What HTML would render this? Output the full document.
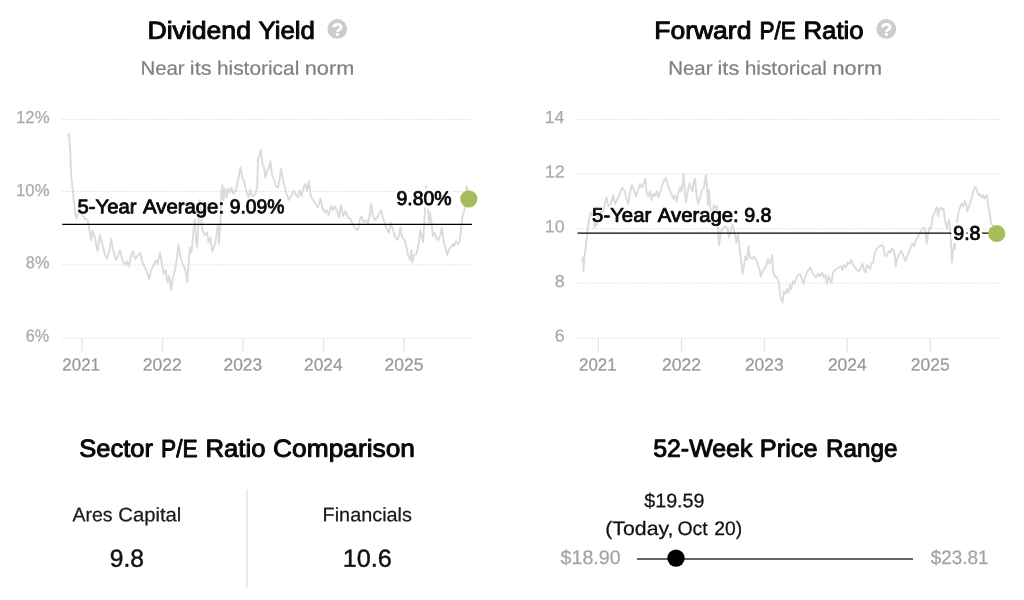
<!DOCTYPE html>
<html><head><meta charset="utf-8"><title>Valuation</title>
<style>html,body{margin:0;padding:0;background:#fff;}body{width:1024px;height:600px;overflow:hidden;font-family:"Liberation Sans",sans-serif;}svg{display:block;will-change:transform;}</style>
</head><body>
<svg width="1024" height="600" viewBox="0 0 1024 600" font-family="'Liberation Sans', sans-serif">
<rect width="1024" height="600" fill="#fff"/>
<!-- dotted grid lines -->
<g stroke="#d6d6d6" stroke-width="1.1" stroke-dasharray="1.1 1.8" fill="none">
<line x1="62.6" x2="472" y1="119.5" y2="119.5"/><line x1="62.6" x2="472" y1="191.5" y2="191.5"/><line x1="62.6" x2="472" y1="264.75" y2="264.75"/><line x1="62.6" x2="472" y1="338.2" y2="338.2"/>
<line x1="577.3" x2="999" y1="119.5" y2="119.5"/><line x1="577.3" x2="999" y1="174.0" y2="174.0"/><line x1="577.3" x2="999" y1="228.6" y2="228.6"/><line x1="577.3" x2="999" y1="283.3" y2="283.3"/><line x1="577.3" x2="999" y1="338.2" y2="338.2"/>
</g>
<!-- x-axis ticks -->
<g stroke="#e6e6e6" stroke-width="1.3" fill="none">
<line x1="82" x2="82" y1="338" y2="351.4"/><line x1="162.5" x2="162.5" y1="338" y2="351.4"/><line x1="243" x2="243" y1="338" y2="351.4"/><line x1="323.5" x2="323.5" y1="338" y2="351.4"/><line x1="404" x2="404" y1="338" y2="351.4"/>
<line x1="598.4" x2="598.4" y1="338" y2="351.4"/><line x1="681.4" x2="681.4" y1="338" y2="351.4"/><line x1="764.3" x2="764.3" y1="338" y2="351.4"/><line x1="847.3" x2="847.3" y1="338" y2="351.4"/><line x1="930.25" x2="930.25" y1="338" y2="351.4"/>
</g>
<!-- data series -->
<path d="M67.0,134.5 L69.0,134.5 L70.2,151.0 L71.2,175.0 L73.8,200.0 L75.5,215.0 L76.5,218.8 L78.0,212.5 L79.5,207.0 L81.0,213.0 L83.0,216.0 L85.0,218.8 L87.5,220.0 L89.5,230.0 L91.2,240.0 L92.5,231.0 L95.0,237.5 L97.5,251.0 L100.0,235.0 L102.5,245.0 L105.0,255.0 L107.0,258.8 L109.5,250.0 L111.2,238.8 L113.0,250.0 L116.2,260.0 L118.8,253.8 L120.0,250.0 L122.0,258.8 L124.5,265.0 L127.0,261.2 L128.8,266.2 L131.2,255.0 L133.2,251.2 L135.0,258.8 L137.5,256.2 L140.0,252.5 L142.5,262.5 L145.0,267.5 L147.5,273.8 L149.2,278.8 L151.2,270.0 L153.8,265.0 L156.2,260.0 L157.5,263.8 L160.0,252.5 L162.0,265.0 L163.8,273.8 L165.5,270.0 L167.5,282.5 L169.2,276.0 L171.2,290.0 L173.0,277.5 L175.0,270.0 L177.0,257.5 L178.5,245.0 L180.5,257.5 L183.0,265.0 L185.5,270.0 L187.2,282.5 L188.5,265.0 L189.8,247.5 L191.5,252.5 L193.0,235.0 L194.8,220.0 L196.0,240.0 L197.2,247.5 L198.5,222.5 L199.8,200.0 L201.0,215.0 L202.2,230.0 L204.8,235.0 L207.2,232.5 L208.5,242.5 L210.5,237.5 L212.2,251.2 L214.8,245.0 L216.5,235.0 L218.0,225.0 L219.0,243.8 L220.5,222.5 L221.5,190.0 L222.5,185.0 L223.5,200.0 L225.0,188.8 L226.5,197.5 L228.0,188.8 L229.8,192.5 L231.5,187.5 L233.5,193.8 L236.0,190.0 L238.0,180.0 L240.5,167.5 L242.2,177.5 L244.0,181.2 L246.0,190.0 L248.5,197.5 L250.5,190.0 L252.2,196.2 L254.8,195.0 L257.2,187.5 L258.0,160.0 L259.8,153.8 L261.0,150.0 L262.2,162.5 L264.0,167.5 L265.5,177.5 L267.2,171.2 L269.0,167.5 L270.5,161.2 L272.0,175.0 L274.0,180.0 L276.0,186.2 L278.0,187.5 L279.8,177.5 L281.0,168.8 L283.0,180.0 L284.8,187.5 L286.5,193.8 L288.5,200.0 L291.0,196.2 L293.5,191.2 L295.5,193.8 L298.0,197.5 L299.8,190.0 L301.5,196.2 L303.5,187.5 L305.5,183.8 L307.0,191.2 L309.0,181.2 L310.5,195.0 L313.0,200.0 L315.5,203.8 L318.0,207.5 L320.5,198.8 L322.2,207.5 L324.8,212.5 L326.5,210.0 L328.5,215.0 L331.0,206.2 L333.0,210.0 L334.8,206.2 L337.2,211.2 L339.0,217.5 L341.0,205.0 L343.0,216.2 L345.5,211.2 L348.0,217.5 L350.5,218.8 L353.0,225.0 L355.5,228.8 L358.0,230.0 L359.8,220.0 L361.5,216.2 L363.5,222.5 L366.0,220.0 L368.0,223.8 L369.8,215.0 L371.0,203.8 L372.5,213.8 L374.8,220.0 L377.2,217.5 L379.2,213.8 L381.0,210.0 L383.0,217.5 L384.8,223.8 L387.2,230.0 L389.0,232.5 L391.0,222.5 L393.0,230.0 L394.8,236.2 L397.2,240.0 L399.2,235.0 L400.5,227.5 L402.2,237.5 L404.8,240.0 L406.5,247.5 L408.5,256.2 L410.5,260.0 L411.5,250.0 L412.5,262.5 L414.0,255.0 L416.5,253.8 L418.5,245.0 L420.2,230.0 L421.8,237.5 L423.0,242.5 L424.2,225.0 L425.0,210.0 L426.0,186.0 L427.0,200.0 L428.0,208.8 L429.0,222.5 L430.0,212.5 L431.5,222.5 L433.0,236.2 L434.8,232.5 L436.5,238.8 L438.5,240.0 L440.5,235.0 L441.8,227.5 L443.5,240.0 L445.5,248.8 L447.2,255.0 L449.0,248.8 L451.0,247.5 L452.5,243.8 L454.0,246.2 L456.0,241.2 L458.0,243.8 L459.8,241.2 L461.0,230.0 L462.2,217.5 L464.0,211.2 L465.5,205.0 L466.5,186.2 L467.5,188.8 L468.8,198.8" fill="none" stroke="#dbdbdb" stroke-width="1.9" stroke-linejoin="round"/>
<path d="M582.0,261.2 L583.0,257.5 L583.5,271.2 L584.5,257.5 L586.0,245.0 L587.5,230.0 L589.0,220.0 L590.8,212.5 L592.0,216.0 L593.5,210.0 L594.5,227.5 L596.0,221.0 L597.0,225.0 L598.5,214.0 L600.0,218.0 L601.5,208.0 L603.0,212.0 L605.0,202.5 L606.5,197.5 L608.2,206.2 L610.8,203.8 L613.2,195.0 L615.0,203.8 L617.0,200.0 L619.5,195.0 L622.0,187.5 L624.5,191.2 L626.5,198.8 L628.2,203.8 L630.0,192.5 L632.0,185.0 L634.0,190.0 L636.0,196.2 L638.0,190.0 L640.0,183.8 L642.0,187.5 L644.0,182.5 L645.5,178.8 L646.5,192.5 L648.5,196.2 L650.0,191.2 L651.5,200.0 L653.2,193.8 L655.0,196.2 L657.0,191.2 L658.5,197.5 L660.8,190.0 L663.2,182.5 L665.8,177.5 L667.5,183.8 L669.5,190.0 L671.5,193.8 L673.5,198.8 L675.2,195.0 L676.5,201.2 L678.2,193.8 L680.0,187.5 L681.5,191.2 L683.0,181.2 L683.5,173.8 L684.5,187.5 L685.8,202.5 L687.5,192.5 L689.5,183.8 L691.0,187.5 L692.5,191.2 L694.0,180.0 L695.0,178.8 L696.5,195.0 L698.2,203.8 L700.0,197.5 L702.0,190.0 L704.0,187.5 L705.8,175.0 L707.0,185.0 L708.0,205.0 L709.0,190.0 L710.5,210.0 L712.5,213.8 L714.0,205.0 L715.8,208.8 L717.0,206.2 L717.8,225.0 L719.0,245.0 L720.8,232.5 L723.2,227.5 L725.8,226.2 L727.5,229.0 L729.0,237.5 L730.8,230.0 L732.5,225.0 L734.5,232.5 L736.5,242.5 L738.0,233.8 L739.5,246.2 L741.0,260.0 L742.5,273.8 L744.0,265.0 L745.5,256.2 L747.0,260.0 L748.5,246.2 L750.0,257.5 L752.0,258.8 L754.0,256.2 L756.0,260.0 L758.0,265.0 L759.5,270.0 L760.8,276.2 L762.5,271.2 L764.5,268.8 L766.5,265.0 L768.0,258.8 L769.5,263.8 L771.0,260.0 L772.2,255.0 L773.2,272.5 L775.0,276.2 L777.0,277.5 L778.8,282.5 L780.0,295.0 L781.5,300.0 L782.5,302.5 L783.8,291.2 L785.5,293.8 L787.0,288.8 L788.5,292.5 L790.0,285.0 L791.5,288.8 L792.8,281.2 L794.5,283.8 L796.5,277.5 L798.2,275.0 L800.0,273.8 L802.0,278.8 L803.5,283.8 L805.0,277.5 L807.0,272.5 L809.0,268.8 L810.5,267.5 L812.0,272.5 L814.0,275.0 L816.0,277.5 L818.0,273.8 L820.0,276.2 L822.0,272.5 L824.0,277.5 L825.5,275.0 L827.0,283.8 L828.5,276.2 L830.0,280.0 L831.5,282.5 L833.0,272.5 L835.0,270.0 L837.0,268.8 L839.0,267.5 L841.0,266.2 L842.5,270.0 L844.0,265.0 L845.8,267.5 L847.5,262.5 L849.5,263.8 L851.5,260.0 L853.2,265.0 L855.0,267.5 L857.0,270.0 L859.0,271.2 L861.0,267.5 L862.5,263.8 L864.0,270.0 L865.5,272.5 L867.0,265.0 L868.5,267.5 L870.0,268.8 L871.5,263.8 L873.2,262.5 L874.5,255.0 L876.0,250.0 L877.5,247.5 L879.5,246.2 L881.5,245.0 L883.5,246.2 L884.5,255.0 L886.0,256.2 L887.5,253.8 L889.0,251.2 L890.5,252.5 L892.0,248.8 L893.5,250.0 L894.8,255.0 L895.8,266.2 L897.0,258.8 L898.5,256.2 L900.0,252.5 L901.5,251.2 L903.0,255.0 L904.5,258.8 L905.5,261.2 L907.0,256.2 L909.0,252.5 L910.5,248.0 L912.5,243.8 L914.0,246.2 L915.5,241.2 L917.5,237.5 L919.5,233.8 L921.5,230.0 L923.5,227.5 L925.0,228.8 L926.0,237.5 L926.8,243.8 L928.0,233.8 L929.5,227.5 L931.0,228.8 L932.5,217.5 L934.0,213.8 L935.5,210.0 L937.0,207.5 L938.0,216.2 L939.5,208.8 L941.0,207.5 L942.5,210.0 L943.5,208.8 L944.5,216.2 L945.5,222.5 L947.0,228.8 L948.0,223.8 L949.0,220.0 L950.0,225.0 L951.0,245.0 L952.0,262.5 L953.0,250.0 L954.0,245.0 L955.0,248.8 L956.0,235.0 L957.2,220.0 L958.5,212.5 L960.0,207.5 L961.5,203.8 L963.0,206.2 L964.5,201.2 L966.0,203.8 L967.2,211.2 L968.5,207.5 L970.0,203.8 L971.5,198.8 L973.0,192.5 L974.5,187.5 L975.5,187.0 L977.0,191.2 L978.5,195.0 L980.0,193.8 L981.5,197.5 L983.0,195.0 L984.5,198.8 L986.0,196.2 L987.0,195.0 L988.0,203.8 L989.0,210.0 L990.0,215.0 L991.0,222.5 L992.5,225.0 L994.0,227.5 L996.5,233.2" fill="none" stroke="#dbdbdb" stroke-width="1.9" stroke-linejoin="round"/>
<!-- 5-year average lines -->
<line x1="62.3" x2="472" y1="224.45" y2="224.45" stroke="#000" stroke-width="1.3"/>
<line x1="577.5" x2="992" y1="233.05" y2="233.05" stroke="#000" stroke-width="1.3"/>
<!-- labels -->
<text id="t1_0" x="147.46" y="38.70" transform="rotate(0.03 147.46 38.70)" font-size="24.6" textLength="103.51" lengthAdjust="spacingAndGlyphs" fill="#080808" stroke="#080808" stroke-width="0.97" stroke-linejoin="round">Dividend</text><text id="t1_1" x="258.50" y="38.70" transform="rotate(0.03 258.50 38.70)" font-size="24.6" textLength="56.46" lengthAdjust="spacingAndGlyphs" fill="#080808" stroke="#080808" stroke-width="0.97" stroke-linejoin="round">Yield</text>
<text id="s1_0" x="140.41" y="74.70" transform="rotate(0.03 140.41 74.70)" font-size="19.5" textLength="44.25" lengthAdjust="spacingAndGlyphs" fill="#808080" stroke="#808080" stroke-width="0.2" stroke-linejoin="round">Near</text><text id="s1_1" x="189.86" y="74.70" transform="rotate(0.03 189.86 74.70)" font-size="19.5" textLength="21.63" lengthAdjust="spacingAndGlyphs" fill="#808080" stroke="#808080" stroke-width="0.2" stroke-linejoin="round">its</text><text id="s1_2" x="216.93" y="74.70" transform="rotate(0.03 216.93 74.70)" font-size="19.5" textLength="82.36" lengthAdjust="spacingAndGlyphs" fill="#808080" stroke="#808080" stroke-width="0.2" stroke-linejoin="round">historical</text><text id="s1_3" x="304.80" y="74.70" transform="rotate(0.03 304.80 74.70)" font-size="19.5" textLength="49.48" lengthAdjust="spacingAndGlyphs" fill="#808080" stroke="#808080" stroke-width="0.2" stroke-linejoin="round">norm</text>
<text id="t2_0" x="654.26" y="38.70" transform="rotate(0.03 654.26 38.70)" font-size="24.6" textLength="97.12" lengthAdjust="spacingAndGlyphs" fill="#080808" stroke="#080808" stroke-width="0.97" stroke-linejoin="round">Forward</text><text id="t2_1" x="759.51" y="38.70" transform="rotate(0.03 759.51 38.70)" font-size="24.6" textLength="36.23" lengthAdjust="spacingAndGlyphs" fill="#080808" stroke="#080808" stroke-width="0.97" stroke-linejoin="round">P/E</text><text id="t2_2" x="803.44" y="38.70" transform="rotate(0.03 803.44 38.70)" font-size="24.6" textLength="60.18" lengthAdjust="spacingAndGlyphs" fill="#080808" stroke="#080808" stroke-width="0.97" stroke-linejoin="round">Ratio</text>
<text id="s2_0" x="668.20" y="74.70" transform="rotate(0.03 668.20 74.70)" font-size="19.5" textLength="44.35" lengthAdjust="spacingAndGlyphs" fill="#808080" stroke="#808080" stroke-width="0.2" stroke-linejoin="round">Near</text><text id="s2_1" x="717.55" y="74.70" transform="rotate(0.03 717.55 74.70)" font-size="19.5" textLength="21.66" lengthAdjust="spacingAndGlyphs" fill="#808080" stroke="#808080" stroke-width="0.2" stroke-linejoin="round">its</text><text id="s2_2" x="744.68" y="74.70" transform="rotate(0.03 744.68 74.70)" font-size="19.5" textLength="82.33" lengthAdjust="spacingAndGlyphs" fill="#808080" stroke="#808080" stroke-width="0.2" stroke-linejoin="round">historical</text><text id="s2_3" x="832.52" y="74.70" transform="rotate(0.03 832.52 74.70)" font-size="19.5" textLength="49.51" lengthAdjust="spacingAndGlyphs" fill="#808080" stroke="#808080" stroke-width="0.2" stroke-linejoin="round">norm</text>
<text id="y1a_0" x="16.04" y="123.00" transform="rotate(0.03 16.04 123.00)" font-size="17.3" textLength="33.49" lengthAdjust="spacingAndGlyphs" fill="#aaa" stroke="#aaa" stroke-width="0.25" stroke-linejoin="round">12%</text>
<text id="y1b_0" x="16.04" y="196.00" transform="rotate(0.03 16.04 196.00)" font-size="17.3" textLength="33.49" lengthAdjust="spacingAndGlyphs" fill="#aaa" stroke="#aaa" stroke-width="0.25" stroke-linejoin="round">10%</text>
<text id="y1c_0" x="25.82" y="268.30" transform="rotate(0.03 25.82 268.30)" font-size="17.3" textLength="23.59" lengthAdjust="spacingAndGlyphs" fill="#aaa" stroke="#aaa" stroke-width="0.25" stroke-linejoin="round">8%</text>
<text id="y1d_0" x="25.82" y="341.50" transform="rotate(0.03 25.82 341.50)" font-size="17.3" textLength="23.46" lengthAdjust="spacingAndGlyphs" fill="#aaa" stroke="#aaa" stroke-width="0.25" stroke-linejoin="round">6%</text>
<text id="x1a_0" x="62.37" y="370.50" transform="rotate(0.03 62.37 370.50)" font-size="17.4" textLength="37.57" lengthAdjust="spacingAndGlyphs" fill="#999" stroke="#999" stroke-width="0.25" stroke-linejoin="round">2021</text>
<text id="x1b_0" x="142.83" y="370.50" transform="rotate(0.03 142.83 370.50)" font-size="17.4" textLength="39.05" lengthAdjust="spacingAndGlyphs" fill="#999" stroke="#999" stroke-width="0.25" stroke-linejoin="round">2022</text>
<text id="x1c_0" x="223.46" y="370.50" transform="rotate(0.03 223.46 370.50)" font-size="17.4" textLength="38.76" lengthAdjust="spacingAndGlyphs" fill="#999" stroke="#999" stroke-width="0.25" stroke-linejoin="round">2023</text>
<text id="x1d_0" x="304.05" y="370.50" transform="rotate(0.03 304.05 370.50)" font-size="17.4" textLength="38.51" lengthAdjust="spacingAndGlyphs" fill="#999" stroke="#999" stroke-width="0.25" stroke-linejoin="round">2024</text>
<text id="x1e_0" x="384.46" y="370.50" transform="rotate(0.03 384.46 370.50)" font-size="17.4" textLength="38.90" lengthAdjust="spacingAndGlyphs" fill="#999" stroke="#999" stroke-width="0.25" stroke-linejoin="round">2025</text>
<text id="y2a_0" x="544.85" y="123.00" transform="rotate(0.03 544.85 123.00)" font-size="17.3" textLength="19.57" lengthAdjust="spacingAndGlyphs" fill="#aaa" stroke="#aaa" stroke-width="0.25" stroke-linejoin="round">14</text>
<text id="y2b_0" x="544.76" y="177.60" transform="rotate(0.03 544.76 177.60)" font-size="17.3" textLength="20.18" lengthAdjust="spacingAndGlyphs" fill="#aaa" stroke="#aaa" stroke-width="0.25" stroke-linejoin="round">12</text>
<text id="y2c_0" x="544.84" y="232.20" transform="rotate(0.03 544.84 232.20)" font-size="17.3" textLength="19.95" lengthAdjust="spacingAndGlyphs" fill="#aaa" stroke="#aaa" stroke-width="0.25" stroke-linejoin="round">10</text>
<text id="y2d_0" x="554.69" y="286.90" transform="rotate(0.03 554.69 286.90)" font-size="17.3" textLength="9.90" lengthAdjust="spacingAndGlyphs" fill="#aaa" stroke="#aaa" stroke-width="0.25" stroke-linejoin="round">8</text>
<text id="y2e_0" x="554.68" y="341.40" transform="rotate(0.03 554.68 341.40)" font-size="17.3" textLength="9.80" lengthAdjust="spacingAndGlyphs" fill="#aaa" stroke="#aaa" stroke-width="0.25" stroke-linejoin="round">6</text>
<text id="x2a_0" x="579.06" y="370.50" transform="rotate(0.03 579.06 370.50)" font-size="17.4" textLength="37.54" lengthAdjust="spacingAndGlyphs" fill="#999" stroke="#999" stroke-width="0.25" stroke-linejoin="round">2021</text>
<text id="x2b_0" x="661.98" y="370.50" transform="rotate(0.03 661.98 370.50)" font-size="17.4" textLength="39.15" lengthAdjust="spacingAndGlyphs" fill="#999" stroke="#999" stroke-width="0.25" stroke-linejoin="round">2022</text>
<text id="x2c_0" x="744.91" y="370.50" transform="rotate(0.03 744.91 370.50)" font-size="17.4" textLength="38.83" lengthAdjust="spacingAndGlyphs" fill="#999" stroke="#999" stroke-width="0.25" stroke-linejoin="round">2023</text>
<text id="x2d_0" x="827.90" y="370.50" transform="rotate(0.03 827.90 370.50)" font-size="17.4" textLength="38.86" lengthAdjust="spacingAndGlyphs" fill="#999" stroke="#999" stroke-width="0.25" stroke-linejoin="round">2024</text>
<text id="x2e_0" x="910.85" y="370.50" transform="rotate(0.03 910.85 370.50)" font-size="17.4" textLength="38.91" lengthAdjust="spacingAndGlyphs" fill="#999" stroke="#999" stroke-width="0.25" stroke-linejoin="round">2025</text>
<text x="77.50" y="213.30" transform="rotate(0.03 77.50 213.30)" font-size="19.8" textLength="58.92" lengthAdjust="spacingAndGlyphs" fill="#fff" stroke="#fff" stroke-width="2.5" stroke-linejoin="round">5-Year</text><text id="a1_0" x="77.50" y="213.30" transform="rotate(0.03 77.50 213.30)" font-size="19.8" textLength="58.92" lengthAdjust="spacingAndGlyphs" fill="#080808" stroke="#080808" stroke-width="0.86" stroke-linejoin="round">5-Year</text><text x="143.07" y="213.30" transform="rotate(0.03 143.07 213.30)" font-size="19.8" textLength="81.02" lengthAdjust="spacingAndGlyphs" fill="#fff" stroke="#fff" stroke-width="2.5" stroke-linejoin="round">Average:</text><text id="a1_1" x="143.07" y="213.30" transform="rotate(0.03 143.07 213.30)" font-size="19.8" textLength="81.02" lengthAdjust="spacingAndGlyphs" fill="#080808" stroke="#080808" stroke-width="0.86" stroke-linejoin="round">Average:</text><text x="229.69" y="213.30" transform="rotate(0.03 229.69 213.30)" font-size="19.8" textLength="54.73" lengthAdjust="spacingAndGlyphs" fill="#fff" stroke="#fff" stroke-width="2.5" stroke-linejoin="round">9.09%</text><text id="a1_2" x="229.69" y="213.30" transform="rotate(0.03 229.69 213.30)" font-size="19.8" textLength="54.73" lengthAdjust="spacingAndGlyphs" fill="#080808" stroke="#080808" stroke-width="0.86" stroke-linejoin="round">9.09%</text>
<text x="396.56" y="205.00" transform="rotate(0.03 396.56 205.00)" font-size="19.8" textLength="55.02" lengthAdjust="spacingAndGlyphs" fill="#fff" stroke="#fff" stroke-width="7" stroke-linejoin="round">9.80%</text><text id="v1_0" x="396.56" y="205.00" transform="rotate(0.03 396.56 205.00)" font-size="19.8" textLength="55.02" lengthAdjust="spacingAndGlyphs" fill="#080808" stroke="#080808" stroke-width="0.86" stroke-linejoin="round">9.80%</text>
<text x="592.12" y="221.70" transform="rotate(0.03 592.12 221.70)" font-size="19.8" textLength="59.08" lengthAdjust="spacingAndGlyphs" fill="#fff" stroke="#fff" stroke-width="2.5" stroke-linejoin="round">5-Year</text><text id="a2_0" x="592.12" y="221.70" transform="rotate(0.03 592.12 221.70)" font-size="19.8" textLength="59.08" lengthAdjust="spacingAndGlyphs" fill="#080808" stroke="#080808" stroke-width="0.86" stroke-linejoin="round">5-Year</text><text x="657.85" y="221.70" transform="rotate(0.03 657.85 221.70)" font-size="19.8" textLength="80.81" lengthAdjust="spacingAndGlyphs" fill="#fff" stroke="#fff" stroke-width="2.5" stroke-linejoin="round">Average:</text><text id="a2_1" x="657.85" y="221.70" transform="rotate(0.03 657.85 221.70)" font-size="19.8" textLength="80.81" lengthAdjust="spacingAndGlyphs" fill="#080808" stroke="#080808" stroke-width="0.86" stroke-linejoin="round">Average:</text><text x="744.15" y="221.70" transform="rotate(0.03 744.15 221.70)" font-size="19.8" textLength="27.25" lengthAdjust="spacingAndGlyphs" fill="#fff" stroke="#fff" stroke-width="2.5" stroke-linejoin="round">9.8</text><text id="a2_2" x="744.15" y="221.70" transform="rotate(0.03 744.15 221.70)" font-size="19.8" textLength="27.25" lengthAdjust="spacingAndGlyphs" fill="#080808" stroke="#080808" stroke-width="0.86" stroke-linejoin="round">9.8</text>
<text x="953.23" y="239.70" transform="rotate(0.03 953.23 239.70)" font-size="19.8" textLength="27.27" lengthAdjust="spacingAndGlyphs" fill="#fff" stroke="#fff" stroke-width="6.5" stroke-linejoin="round">9.8</text><text id="v2_0" x="953.23" y="239.70" transform="rotate(0.03 953.23 239.70)" font-size="19.8" textLength="27.27" lengthAdjust="spacingAndGlyphs" fill="#080808" stroke="#080808" stroke-width="0.86" stroke-linejoin="round">9.8</text>
<text id="bt1_0" x="79.18" y="456.70" transform="rotate(0.03 79.18 456.70)" font-size="24.6" textLength="73.81" lengthAdjust="spacingAndGlyphs" fill="#080808" stroke="#080808" stroke-width="0.97" stroke-linejoin="round">Sector</text><text id="bt1_1" x="161.02" y="456.70" transform="rotate(0.03 161.02 456.70)" font-size="24.6" textLength="36.53" lengthAdjust="spacingAndGlyphs" fill="#080808" stroke="#080808" stroke-width="0.97" stroke-linejoin="round">P/E</text><text id="bt1_2" x="205.56" y="456.70" transform="rotate(0.03 205.56 456.70)" font-size="24.6" textLength="59.93" lengthAdjust="spacingAndGlyphs" fill="#080808" stroke="#080808" stroke-width="0.97" stroke-linejoin="round">Ratio</text><text id="bt1_3" x="273.09" y="456.70" transform="rotate(0.03 273.09 456.70)" font-size="24.6" textLength="141.93" lengthAdjust="spacingAndGlyphs" fill="#080808" stroke="#080808" stroke-width="0.97" stroke-linejoin="round">Comparison</text>
<text id="b1_0" x="72.54" y="521.30" transform="rotate(0.03 72.54 521.30)" font-size="19.5" textLength="40.08" lengthAdjust="spacingAndGlyphs" fill="#1a1a1a" stroke="#1a1a1a" stroke-width="0.25" stroke-linejoin="round">Ares</text><text id="b1_1" x="118.26" y="521.30" transform="rotate(0.03 118.26 521.30)" font-size="19.5" textLength="63.05" lengthAdjust="spacingAndGlyphs" fill="#1a1a1a" stroke="#1a1a1a" stroke-width="0.25" stroke-linejoin="round">Capital</text>
<text id="b2_0" x="109.82" y="566.70" transform="rotate(0.03 109.82 566.70)" font-size="24.8" textLength="34.24" lengthAdjust="spacingAndGlyphs" fill="#111" stroke="#111" stroke-width="0.45" stroke-linejoin="round">9.8</text>
<text id="b3_0" x="322.60" y="521.30" transform="rotate(0.03 322.60 521.30)" font-size="19.5" textLength="89.32" lengthAdjust="spacingAndGlyphs" fill="#1a1a1a" stroke="#1a1a1a" stroke-width="0.25" stroke-linejoin="round">Financials</text>
<text id="b4_0" x="342.70" y="566.70" transform="rotate(0.03 342.70 566.70)" font-size="24.8" textLength="48.99" lengthAdjust="spacingAndGlyphs" fill="#111" stroke="#111" stroke-width="0.45" stroke-linejoin="round">10.6</text>
<text id="bt2_0" x="653.15" y="456.70" transform="rotate(0.03 653.15 456.70)" font-size="24.6" textLength="99.23" lengthAdjust="spacingAndGlyphs" fill="#080808" stroke="#080808" stroke-width="0.97" stroke-linejoin="round">52-Week</text><text id="bt2_1" x="759.88" y="456.70" transform="rotate(0.03 759.88 456.70)" font-size="24.6" textLength="57.78" lengthAdjust="spacingAndGlyphs" fill="#080808" stroke="#080808" stroke-width="0.97" stroke-linejoin="round">Price</text><text id="bt2_2" x="826.01" y="456.70" transform="rotate(0.03 826.01 456.70)" font-size="24.6" textLength="71.38" lengthAdjust="spacingAndGlyphs" fill="#080808" stroke="#080808" stroke-width="0.97" stroke-linejoin="round">Range</text>
<text id="p1_0" x="644.18" y="507.20" transform="rotate(0.03 644.18 507.20)" font-size="19.5" textLength="60.41" lengthAdjust="spacingAndGlyphs" fill="#111" stroke="#111" stroke-width="0.25" stroke-linejoin="round">$19.59</text>
<text id="p2_0" x="605.27" y="535.10" transform="rotate(0.03 605.27 535.10)" font-size="19.5" textLength="68.18" lengthAdjust="spacingAndGlyphs" fill="#111" stroke="#111" stroke-width="0.25" stroke-linejoin="round">(Today,</text><text id="p2_1" x="677.46" y="535.10" transform="rotate(0.03 677.46 535.10)" font-size="19.5" textLength="30.32" lengthAdjust="spacingAndGlyphs" fill="#111" stroke="#111" stroke-width="0.25" stroke-linejoin="round">Oct</text><text id="p2_2" x="714.33" y="535.10" transform="rotate(0.03 714.33 535.10)" font-size="19.5" textLength="27.92" lengthAdjust="spacingAndGlyphs" fill="#111" stroke="#111" stroke-width="0.25" stroke-linejoin="round">20)</text>
<text id="p3_0" x="560.58" y="564.00" transform="rotate(0.03 560.58 564.00)" font-size="19.5" textLength="60.02" lengthAdjust="spacingAndGlyphs" fill="#a4a4a4" stroke="#a4a4a4" stroke-width="0.25" stroke-linejoin="round">$18.90</text>
<text id="p4_0" x="930.67" y="564.00" transform="rotate(0.03 930.67 564.00)" font-size="19.5" textLength="57.80" lengthAdjust="spacingAndGlyphs" fill="#a4a4a4" stroke="#a4a4a4" stroke-width="0.25" stroke-linejoin="round">$23.81</text>
<!-- current value markers -->
<circle cx="468.8" cy="198.8" r="8.6" fill="#a5bd5b"/>
<circle cx="996.7" cy="233.5" r="8.6" fill="#a5bd5b"/>
<g transform="translate(337.3,28.9)"><circle r="9.9" fill="#ccc"/><path d="M-3.8,-1.5 C-3.5,-3.6 -1.9,-4.6 0.1,-4.6 C2.3,-4.6 3.8,-3.4 3.8,-1.7 C3.8,0.6 0.1,0.7 0.1,3.1" fill="none" stroke="#fff" stroke-width="2.7"/><circle cx="0.1" cy="5.6" r="1.65" fill="#fff"/></g>
<g transform="translate(886.3,28.9)"><circle r="9.9" fill="#ccc"/><path d="M-3.8,-1.5 C-3.5,-3.6 -1.9,-4.6 0.1,-4.6 C2.3,-4.6 3.8,-3.4 3.8,-1.7 C3.8,0.6 0.1,0.7 0.1,3.1" fill="none" stroke="#fff" stroke-width="2.7"/><circle cx="0.1" cy="5.6" r="1.65" fill="#fff"/></g>
<!-- sector comparison divider -->
<line x1="246.9" x2="246.9" y1="489.2" y2="587.6" stroke="#dcdcdc" stroke-width="1.2"/>
<!-- 52-week range -->
<line x1="637" x2="913" y1="559" y2="559" stroke="#333" stroke-width="1.6"/>
<circle cx="676" cy="558.1" r="8.7" fill="#000"/>
</svg>
</body></html>
